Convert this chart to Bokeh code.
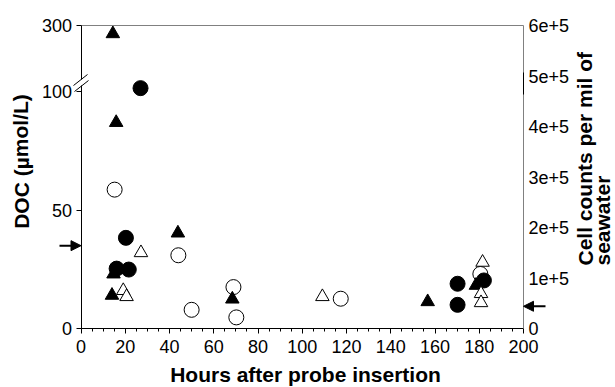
from bokeh.plotting import figure
from bokeh.models import (Range1d, LinearAxis, FixedTicker, SingleIntervalTicker,
                          Arrow, NormalHead, Label, ColumnDataSource)
from bokeh.embed import file_html
from bokeh.resources import INLINE

# ---------------- data ----------------
# DOC (umol/L), filled symbols, left axis (broken above 100)
tri_f_hours = [14.4, 15.9, 43.8, 14.7, 14.0, 68.4, 156.7, 178.5]
tri_f_doc   = [275, 87.0, 40.3, 23.0, 14.0, 12.4, 11.3, 18.2]
cir_f_hours = [26.9, 20.3, 16.1, 21.6, 170.2, 170.2, 182.1]
cir_f_doc   = [111, 38.3, 25.3, 24.9, 18.9, 10.0, 20.3]

# Cell counts per ml, open symbols, right axis
cir_o_hours = [15.2, 44.0, 50.0, 68.9, 70.2, 117.4, 180.5]
cir_o_cells = [275000, 145000, 37000, 82000, 22000, 59000, 108000]
tri_o_hours = [27.1, 19.1, 20.6, 109.1, 181.5, 180.8, 180.8]
tri_o_cells = [150000, 75000, 63000, 63000, 131000, 69000, 51000]

doc_ref = 35.0        # arrow on DOC axis
cell_ref = 44000      # arrow on cell-count axis

hour_min, hour_max = 0, 200
doc_ticks = [0, 50, 100, 300]
doc_tick_labels = ["0", "50", "100", "300"]
cell_ticks = [0, 100000, 200000, 300000, 400000, 500000, 600000]
cell_tick_labels = ["0", "1e+5", "2e+5", "3e+5", "4e+5", "5e+5", "6e+5"]

# broken DOC axis: 0-100 linear, 100-300 compressed
BREAK = 100
UPPER_FACTOR = 0.14
def doc_to_plot(v):
    return v if v <= BREAK else BREAK + (v - BREAK) * UPPER_FACTOR

Y_TOP = doc_to_plot(300)
CELL_TOP = 600000

# ---------------- layout (pixels) ----------------
W, H = 615, 387
X0_PX, X1_PX = 80.5, 523.0      # hour 0 / hour 200
Y0_PX, Y1_PX = 328.0, 25.0      # value 0 / top
kx = (X1_PX - X0_PX) / (hour_max - hour_min)
ky = (Y0_PX - Y1_PX) / Y_TOP
kc = (Y0_PX - Y1_PX) / CELL_TOP

def px_to_x(px):
    return hour_min + (px - X0_PX) / kx
def py_to_y(py):
    return (Y0_PX - py) / ky

FONT = "Liberation Sans"
TICK_SIZE = "18px"
TITLE_SIZE = "21px"

p = figure(width=W, height=H, output_backend="svg", toolbar_location=None,
           x_range=Range1d(px_to_x(0), px_to_x(W)),
           y_range=Range1d(py_to_y(H), py_to_y(0)),
           x_axis_location=None, y_axis_location=None,
           min_border=0, min_border_left=0, min_border_right=0,
           min_border_top=0, min_border_bottom=0)
p.extra_y_ranges = {"cells": Range1d(-(H - Y0_PX) / kc, CELL_TOP + Y1_PX / kc)}
p.xgrid.visible = False
p.ygrid.visible = False
p.outline_line_color = None
p.background_fill_color = "white"
p.border_fill_color = "white"

# left axis
ya = LinearAxis(fixed_location=hour_min, bounds=(0, Y_TOP))
plot_ticks = [doc_to_plot(t) for t in doc_ticks]
ya.ticker = FixedTicker(ticks=plot_ticks, minor_ticks=[])
ya.major_label_overrides = {pt: lab for pt, lab in zip(plot_ticks, doc_tick_labels)}
ya.axis_line_color = "black"
ya.major_tick_line_color = "black"
ya.major_tick_out = 5
ya.major_tick_in = 0
ya.major_label_standoff = 4
ya.major_label_text_font = FONT
ya.major_label_text_font_size = TICK_SIZE
ya.major_label_text_color = "black"
p.add_layout(ya, "left")

# bottom axis
xa = LinearAxis(fixed_location=0, bounds=(hour_min, hour_max))
xa.ticker = SingleIntervalTicker(interval=20, num_minor_ticks=4)
xa.axis_line_color = "black"
xa.major_tick_out = 5
xa.major_tick_in = 0
xa.minor_tick_out = 3
xa.minor_tick_in = 0
xa.major_label_standoff = 6
xa.major_label_text_font = FONT
xa.major_label_text_font_size = TICK_SIZE
xa.major_label_text_color = "black"
p.add_layout(xa, "below")

# right axis
ra = LinearAxis(y_range_name="cells", fixed_location=hour_max, bounds=(0, CELL_TOP),
                ticker=FixedTicker(ticks=cell_ticks, minor_ticks=[]))
ra.major_label_overrides = {t: lab for t, lab in zip(cell_ticks, cell_tick_labels)}
ra.axis_line_color = "#808080"
ra.major_tick_out = 0
ra.major_tick_in = 0
ra.minor_tick_out = 0
ra.major_label_standoff = 5
ra.major_label_text_font = FONT
ra.major_label_text_font_size = TICK_SIZE
ra.major_label_text_color = "black"
p.add_layout(ra, "right")

# top frame line
ta = LinearAxis(fixed_location=Y_TOP, bounds=(hour_min, hour_max),
                ticker=FixedTicker(ticks=[], minor_ticks=[]))
ta.axis_line_color = "#808080"
ta.major_tick_out = 0
ta.minor_tick_out = 0
p.add_layout(ta, "above")

# ---------------- markers ----------------
src_co = ColumnDataSource(dict(x=cir_o_hours, y=cir_o_cells))
src_tf = ColumnDataSource(dict(x=tri_f_hours, y=[doc_to_plot(v) for v in tri_f_doc]))
src_cf = ColumnDataSource(dict(x=cir_f_hours, y=[doc_to_plot(v) for v in cir_f_doc]))
src_to = ColumnDataSource(dict(x=tri_o_hours, y=tri_o_cells))

p.scatter("x", "y", source=src_co, marker="circle", size=15, fill_color="white",
          line_color="black", line_width=1, y_range_name="cells")
p.scatter("x", "y", source=src_tf, marker="triangle", size=13.5, fill_color="black",
          line_color="black", line_width=1)
p.scatter("x", "y", source=src_cf, marker="circle", size=15, fill_color="black",
          line_color="black", line_width=1)
p.scatter("x", "y", source=src_to, marker="triangle", size=13.5, fill_color="white",
          line_color="black", line_width=1, y_range_name="cells")

# ---------------- arrows ----------------
p.add_layout(Arrow(x_start=px_to_x(59), y_start=doc_ref, x_end=hour_min, y_end=doc_ref,
                   line_width=2, line_color="black",
                   end=NormalHead(size=10, fill_color="black", line_color="black")))
p.add_layout(Arrow(x_start=px_to_x(545), y_start=cell_ref, x_end=hour_max, y_end=cell_ref,
                   y_range_name="cells", line_width=2, line_color="black",
                   end=NormalHead(size=10, fill_color="black", line_color="black")))

# ---------------- axis break marks ----------------
p.add_layout(Arrow(x_start=hour_min, y_start=py_to_y(85), x_end=hour_min, y_end=py_to_y(79),
                   end=None, line_width=3, line_color="white"))
p.add_layout(Arrow(x_start=px_to_x(73), y_start=py_to_y(85), x_end=px_to_x(87),
                   y_end=py_to_y(74), end=None, line_width=1, line_color="black"))
p.add_layout(Arrow(x_start=px_to_x(74), y_start=py_to_y(91), x_end=px_to_x(88),
                   y_end=py_to_y(80), end=None, line_width=1, line_color="black"))
p.add_layout(Arrow(x_start=hour_max, y_start=py_to_y(94), x_end=hour_max, y_end=py_to_y(72),
                   end=None, line_width=1, line_color="black"))

# ---------------- titles ----------------
def title_label(**kw):
    return Label(text_font=FONT, text_font_size=TITLE_SIZE, text_font_style="bold",
                 text_baseline="middle", text_color="black", **kw)

p.add_layout(title_label(x=px_to_x(305), y=py_to_y(374),
                         text="Hours after probe insertion", text_align="center"))
p.add_layout(title_label(x=px_to_x(20.5), y=py_to_y(161), text="DOC (µmol/L)",
                         angle=1.5708, text_align="center"))
p.add_layout(title_label(x=px_to_x(584.5), y=py_to_y(265), text="Cell counts per mil of",
                         angle=1.5708, text_align="left"))
p.add_layout(title_label(x=px_to_x(602), y=py_to_y(265), text="seawater",
                         angle=1.5708, text_align="left"))

open("out.html", "w").write(file_html(p, INLINE))
